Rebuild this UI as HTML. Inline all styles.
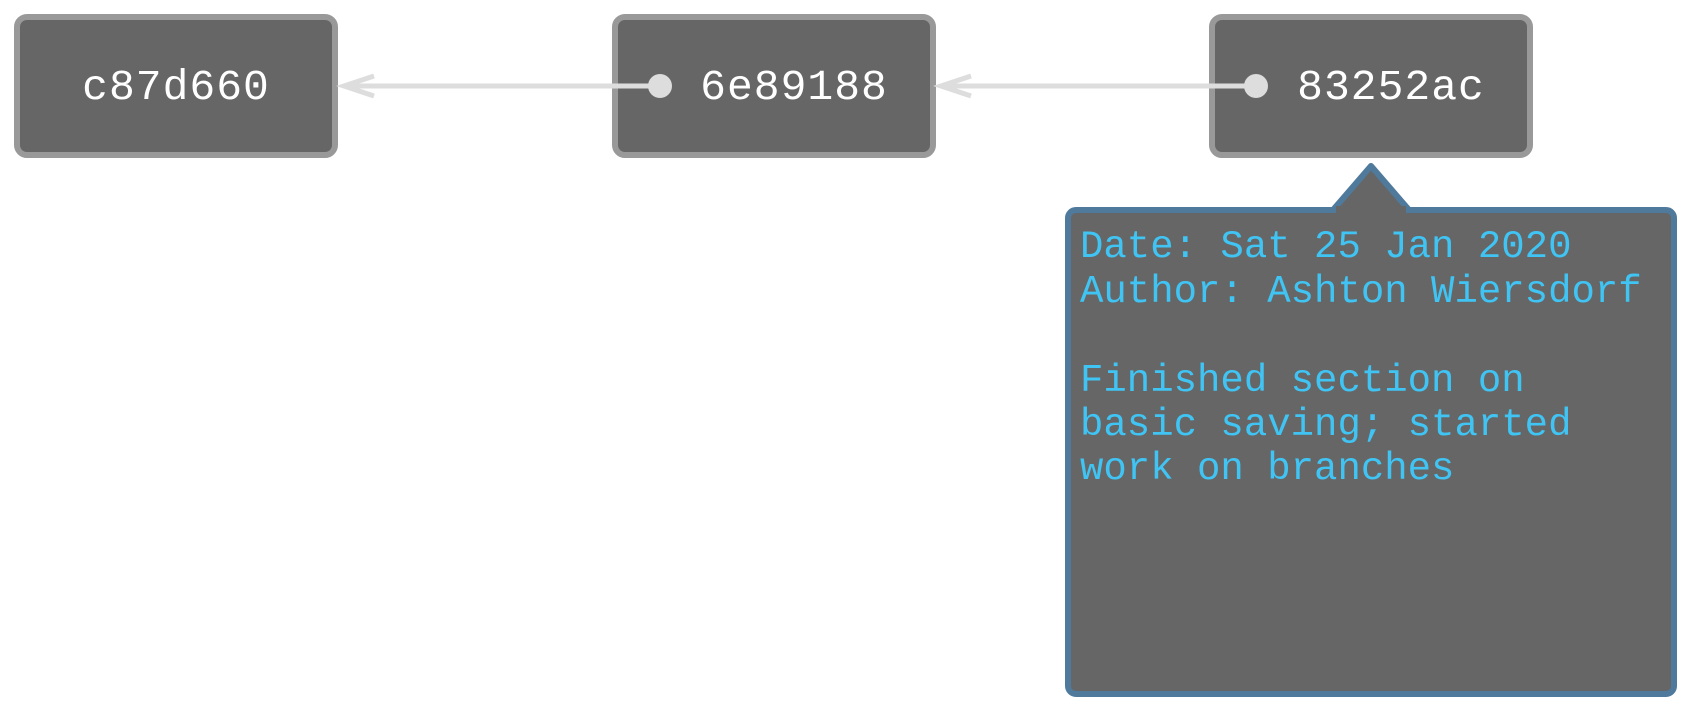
<!DOCTYPE html>
<html><head><meta charset="utf-8"><style>
html,body{margin:0;padding:0;background:#fff;overflow:hidden}
svg{display:block}
text{font-family:"Liberation Mono",monospace}
</style></head><body>
<svg width="1691" height="712" viewBox="0 0 1691 712">
<g fill="#666" stroke="#999" stroke-width="6">
<rect x="17" y="17" width="318" height="138" rx="10"/>
<rect x="615" y="17" width="318" height="138" rx="10"/>
<rect x="1212" y="17" width="318" height="138" rx="10"/>
</g>
<g stroke="#ddd" stroke-width="5" fill="none">
<line x1="660" y1="86" x2="345" y2="86"/>
<polyline points="374,76 344,86 374,96"/>
<line x1="1256" y1="86" x2="941" y2="86"/>
<polyline points="971,76 941,86 971,96"/>
</g>
<circle cx="660" cy="86" r="12" fill="#ddd"/>
<circle cx="1256" cy="86" r="12" fill="#ddd"/>
<g fill="#fff" font-size="43" text-anchor="middle" letter-spacing="1">
<text x="176" y="99">c87d660</text>
<text x="794" y="99">6e89188</text>
<text x="1391" y="99">83252ac</text>
</g>
<path d="M1333,210 L1371,166 L1409,210" fill="#666" stroke="#4f7a9c" stroke-width="6" stroke-linejoin="round"/>
<rect x="1068" y="210" width="606" height="484" rx="8" fill="#666" stroke="#4f7a9c" stroke-width="6"/>
<rect x="1336" y="206" width="70" height="8" fill="#666"/>
<g fill="#40c4f4" font-size="39">
<text x="1080" y="257">Date: Sat 25 Jan 2020</text>
<text x="1080" y="302">Author: Ashton Wiersdorf</text>
<text x="1080" y="391">Finished section on</text>
<text x="1080" y="435">basic saving; started</text>
<text x="1080" y="479">work on branches</text>
</g>
</svg>
</body></html>
